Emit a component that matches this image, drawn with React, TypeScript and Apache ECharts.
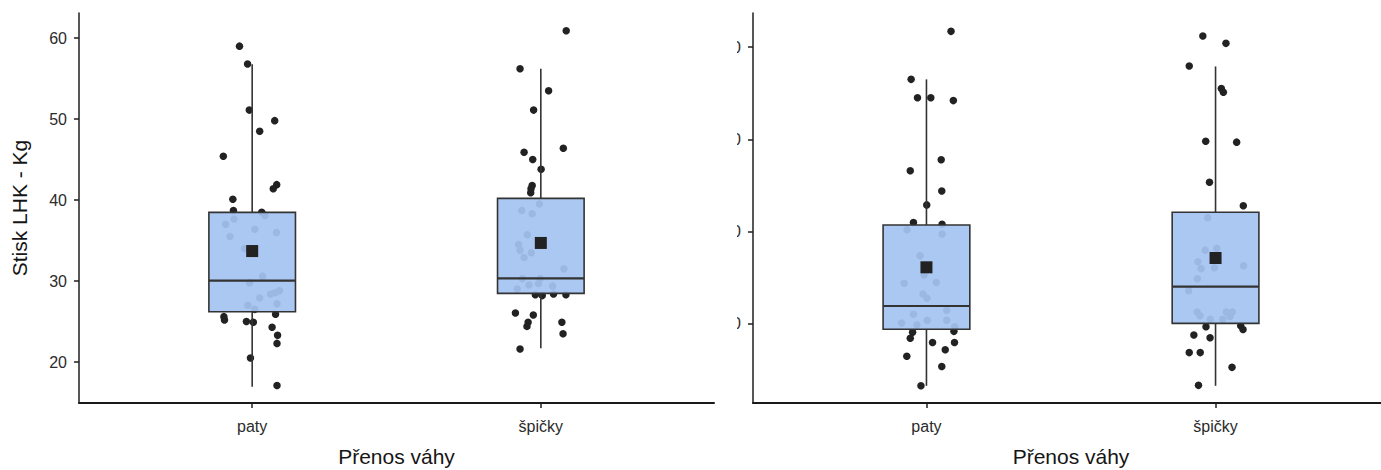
import React, { useEffect, useRef } from 'react';
import * as echarts from 'echarts';

const categories = ['paty', 'špičky'];
const xAxisTitle = 'Přenos váhy';
const leftYTitle = 'Stisk LHK - Kg';
const leftTicks = [20, 30, 40, 50, 60];
const rightTicks = [20, 30, 40, 50];

// [category position, min, Q1, median, Q3, max]
const leftBoxes = [
  [1, 16.95, 26.2, 30.04, 38.48, 56.75],
  [2, 21.7, 28.48, 30.33, 40.2, 56.2],
];
const leftMeans = [33.7, 34.7];
const rightBoxes = [
  [1, 13.3, 19.43, 21.95, 30.73, 46.5],
  [2, 13.3, 20.07, 24.04, 32.1, 47.9],
];
const rightMeans = [26.14, 27.15];

// jittered points: [horizontal jitter offset, value]
const leftPaty = [
  [-0.044, 59.0], [-0.016, 56.8], [-0.01, 51.1], [0.078, 49.8], [0.026, 48.5], [-0.1, 45.4],
  [0.085, 41.9], [0.073, 41.4], [-0.067, 40.1], [-0.065, 38.7], [0.033, 38.5], [0.044, 38.1],
  [-0.063, 37.65], [-0.092, 37.0], [0.009, 36.4], [0.084, 36.0], [-0.077, 35.5], [-0.026, 34.0],
  [0.036, 30.6], [-0.009, 29.8], [0.026, 27.9], [0.064, 28.4], [0.095, 28.8], [0.08, 28.55],
  [-0.015, 27.0], [0.086, 27.2], [0.009, 26.5], [-0.098, 25.6], [-0.096, 25.2], [-0.02, 25.0],
  [0.004, 24.9], [0.081, 25.9], [0.069, 24.3], [0.088, 23.3], [0.086, 22.3], [-0.006, 20.5],
  [0.086, 17.1],
];
const leftSpicky = [
  [0.088, 60.9], [-0.072, 56.2], [0.027, 53.5], [-0.025, 51.1], [0.078, 46.4], [-0.058, 45.9],
  [-0.028, 45.0], [0.001, 43.8], [-0.03, 41.8], [-0.034, 41.4], [-0.035, 40.9], [-0.005, 39.5],
  [-0.066, 38.7], [-0.03, 38.3], [-0.047, 35.7], [-0.077, 34.5], [-0.072, 33.8], [-0.033, 33.5],
  [-0.058, 32.9], [0.08, 31.5], [-0.064, 30.3], [-0.002, 30.3], [-0.041, 29.5], [-0.008, 29.7],
  [0.041, 29.4], [-0.082, 29.0], [-0.019, 28.3], [0.005, 28.2], [0.044, 28.4], [0.087, 28.3],
  [-0.088, 26.05], [-0.026, 25.8], [-0.044, 24.9], [-0.048, 24.4], [0.073, 24.9], [0.077, 23.5],
  [-0.072, 21.6],
];
const rightPaty = [
  [0.085, 51.7], [-0.053, 46.5], [-0.031, 44.5], [0.015, 44.5], [0.093, 44.2], [0.051, 37.8],
  [-0.056, 36.6], [0.053, 34.4], [0.001, 32.9], [-0.045, 31.0], [0.054, 30.8], [-0.067, 30.2],
  [0.054, 29.75], [-0.022, 27.4], [-0.008, 25.3], [-0.077, 24.4], [0.034, 24.5], [-0.012, 23.25],
  [0.002, 22.8], [-0.045, 21.05], [0.07, 21.5], [-0.086, 20.1], [0.003, 20.4], [0.07, 20.4],
  [-0.033, 19.9], [0.098, 19.7], [-0.048, 19.1], [-0.056, 18.45], [0.095, 19.2], [0.021, 18.0],
  [0.097, 18.0], [0.065, 17.2], [-0.068, 16.5], [0.053, 15.4], [-0.019, 13.3],
];
const rightSpicky = [
  [-0.044, 51.2], [0.036, 50.4], [-0.091, 47.95], [0.02, 45.5], [0.027, 45.1], [-0.034, 39.8],
  [0.073, 39.7], [-0.021, 35.35], [0.096, 32.8], [-0.027, 31.5], [-0.036, 28.0], [0.004, 28.2],
  [-0.061, 26.75], [-0.05, 26.0], [-0.004, 26.1], [0.097, 26.3], [-0.063, 24.9], [-0.093, 23.6],
  [-0.064, 21.3], [-0.054, 20.9], [0.037, 21.3], [0.058, 21.3], [0.05, 20.8], [-0.018, 20.5],
  [0.025, 20.5], [-0.033, 19.7], [0.087, 19.8], [0.095, 19.4], [-0.075, 18.8], [-0.019, 18.5],
  [-0.091, 16.9], [-0.053, 16.9], [0.057, 15.3], [-0.059, 13.35],
];

const FONT = "'Liberation Sans', Arial, sans-serif";
const DARK = '#222222';

function buildOption(cfg: {
  grid: any;
  yMin: number;
  yMax: number;
  yTicks: number[];
  yName?: string;
  boxes: number[][];
  means: number[];
  points: number[][][];
}) {
  const axisLineStyle = { color: '#1f1f1f', width: 1.5 };
  const pts: number[][] = [];
  cfg.points.forEach((arr, ci) => arr.forEach(([o, v]) => pts.push([ci + 1 + o, v])));
  return {
    animation: false,
    backgroundColor: '#ffffff',
    grid: { ...cfg.grid, outerBoundsMode: 'none', containLabel: false },
    xAxis: {
      type: 'value',
      min: 0.4,
      max: 2.6,
      axisLine: { onZero: false, lineStyle: { color: '#1a1a1a', width: 2 } },
      axisTick: { customValues: [1, 2], length: 5, lineStyle: axisLineStyle },
      axisLabel: {
        customValues: [1, 2],
        formatter: (v: number) => categories[Math.round(v) - 1] ?? '',
        fontSize: 16,
        color: '#2b2b2b',
        margin: 15,
        fontFamily: FONT,
      },
      splitLine: { show: false },
      name: xAxisTitle,
      nameLocation: 'middle',
      nameGap: 43,
      nameTextStyle: { fontSize: 21, color: '#151515', fontFamily: FONT },
    },
    yAxis: {
      type: 'value',
      min: cfg.yMin,
      max: cfg.yMax,
      axisLine: { show: true, onZero: false, lineStyle: axisLineStyle },
      axisTick: { show: true, customValues: cfg.yTicks, length: 5, lineStyle: axisLineStyle },
      axisLabel: {
        customValues: cfg.yTicks,
        fontSize: 16,
        color: '#2b2b2b',
        margin: 12,
        fontFamily: FONT,
      },
      splitLine: { show: false },
      name: cfg.yName ?? '',
      nameLocation: 'middle',
      nameRotate: 90,
      nameGap: 49,
      nameTextStyle: { fontSize: 21, color: '#151515', fontFamily: FONT },
    },
    series: [
      {
        type: 'scatter',
        z: 2,
        silent: true,
        symbol: 'circle',
        symbolSize: 7.5,
        itemStyle: { color: DARK, opacity: 1 },
        data: pts,
      },
      {
        type: 'custom',
        z: 3,
        silent: true,
        encode: { x: 0, y: [1, 2, 3, 4, 5] },
        data: cfg.boxes,
        renderItem: (params: any, api: any) => {
          const x = api.value(0);
          const lo = api.value(1);
          const q1 = api.value(2);
          const med = api.value(3);
          const q3 = api.value(4);
          const hi = api.value(5);
          const hw = 0.15;
          const tl = api.coord([x - hw, q3]);
          const br = api.coord([x + hw, q1]);
          const mL = api.coord([x - hw, med]);
          const mR = api.coord([x + hw, med]);
          const top = api.coord([x, hi]);
          const bot = api.coord([x, lo]);
          const q3c = api.coord([x, q3]);
          const q1c = api.coord([x, q1]);
          const ls = { stroke: '#333333', lineWidth: 1.6 };
          return {
            type: 'group',
            children: [
              { type: 'line', shape: { x1: top[0], y1: top[1], x2: q3c[0], y2: q3c[1] }, style: ls },
              { type: 'line', shape: { x1: q1c[0], y1: q1c[1], x2: bot[0], y2: bot[1] }, style: ls },
              {
                type: 'rect',
                shape: { x: tl[0], y: tl[1], width: br[0] - tl[0], height: br[1] - tl[1] },
                style: { fill: 'rgba(164,196,240,0.93)', stroke: '#333333', lineWidth: 1.6 },
              },
              { type: 'line', shape: { x1: mL[0], y1: mL[1], x2: mR[0], y2: mR[1] }, style: { stroke: '#333333', lineWidth: 2.2 } },
            ],
          };
        },
      },
      {
        type: 'scatter',
        z: 4,
        silent: true,
        symbol: 'rect',
        symbolSize: 12,
        itemStyle: { color: DARK, opacity: 1 },
        data: cfg.means.map((m, i) => [i + 1, m]),
      },
    ],
  };
}

function useChart(ref: React.RefObject<HTMLDivElement | null>, option: any) {
  useEffect(() => {
    if (!ref.current) return;
    const chart = echarts.init(ref.current, undefined, { renderer: 'svg' });
    chart.setOption(option);
    return () => chart.dispose();
  }, []);
}

export default function App() {
  const leftRef = useRef<HTMLDivElement>(null);
  const rightRef = useRef<HTMLDivElement>(null);

  useChart(
    leftRef,
    buildOption({
      grid: { left: 79, right: 22, top: 13, bottom: 67 },
      yMin: 14.94,
      yMax: 63.09,
      yTicks: leftTicks,
      yName: leftYTitle,
      boxes: leftBoxes,
      means: leftMeans,
      points: [leftPaty, leftSpicky],
    })
  );
  useChart(
    rightRef,
    buildOption({
      grid: { left: 77, right: 27, top: 13, bottom: 67 },
      yMin: 11.44,
      yMax: 53.69,
      yTicks: rightTicks,
      boxes: rightBoxes,
      means: rightMeans,
      points: [rightPaty, rightSpicky],
    })
  );

  return (
    <div style={{ position: 'fixed', left: 0, top: 0, width: 1381, height: 470, background: '#fff', overflow: 'hidden' }}>
      <div ref={leftRef} style={{ position: 'absolute', left: 0, top: 0, width: 736, height: 470 }} />
      <div style={{ position: 'absolute', left: 737, top: 0, width: 644, height: 470, overflow: 'hidden' }}>
        <div ref={rightRef} style={{ position: 'absolute', left: -61, top: 0, width: 740, height: 470 }} />
      </div>
    </div>
  );
}
